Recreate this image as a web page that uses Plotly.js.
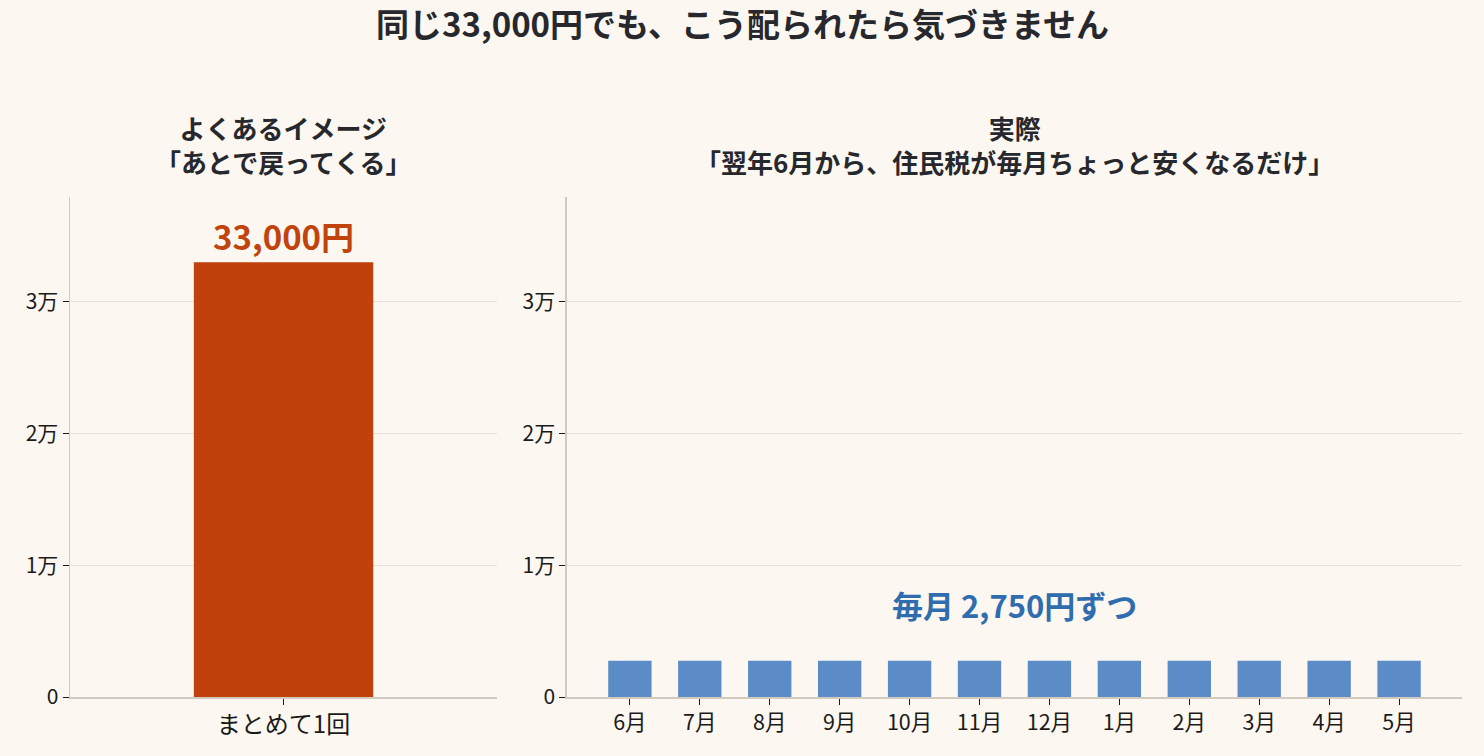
<!DOCTYPE html>
<html>
<head>
<meta charset="utf-8">
<script src="https://cdn.plot.ly/plotly-3.0.1.min.js"></script>
<style>
  html, body { margin: 0; padding: 0; background: #fcf7f0; }
  #chart { width: 1484px; height: 756px; }
</style>
</head>
<body>
<div id="chart"></div>
<script>
(function () {
    'use strict';

    // Data
    const lumpCategories = ['まとめて1回'];
    const lumpValues = [33000];
    const monthCategories = ['6月', '7月', '8月', '9月', '10月', '11月', '12月', '1月', '2月', '3月', '4月', '5月'];
    const monthValues = [2750, 2750, 2750, 2750, 2750, 2750, 2750, 2750, 2750, 2750, 2750, 2750];
    const yTickVals = [0, 10000, 20000, 30000];
    const yTickText = ['0', '1万', '2万', '3万'];

    const COLORS = {
        bg: '#fcf7f0',
        text: '#26282d',
        tick: '#1a1a1a',
        grid: '#e6dfd3',
        axis: '#d2cabe',
        lump: '#c1410c',
        lumpText: '#c1440e',
        month: '#5b8cc8',
        monthText: '#2f6daf'
    };

    const FONT = '"Noto Sans CJK JP", "Noto Sans", sans-serif';
    const yMax = 37950;

    const traces = [
        {
            type: 'bar',
            x: lumpCategories,
            y: lumpValues,
            width: 0.42,
            marker: { color: COLORS.lump },
            xaxis: 'x',
            yaxis: 'y',
            hoverinfo: 'skip'
        },
        {
            type: 'bar',
            x: monthCategories,
            y: monthValues,
            width: 0.62,
            marker: { color: COLORS.month },
            xaxis: 'x2',
            yaxis: 'y2',
            hoverinfo: 'skip'
        }
    ];

    const yAxisBase = {
        range: [0, yMax],
        tickvals: yTickVals,
        ticktext: yTickText,
        ticks: 'outside',
        ticklen: 6,
        tickcolor: COLORS.tick,
        tickfont: { family: FONT, size: 21, color: COLORS.tick },
        gridcolor: COLORS.grid,
        gridwidth: 1.5,
        showline: true,
        linecolor: COLORS.axis,
        linewidth: 1.5,
        zeroline: false,
        fixedrange: true
    };

    const xAxisBase = {
        ticks: 'outside',
        ticklen: 6,
        tickcolor: COLORS.tick,
        tickfont: { family: FONT, size: 24, color: COLORS.tick },
        showline: true,
        linecolor: COLORS.axis,
        linewidth: 1.5,
        showgrid: false,
        fixedrange: true
    };

    const layout = {
        width: 1484,
        height: 756,
        paper_bgcolor: COLORS.bg,
        plot_bgcolor: COLORS.bg,
        font: { family: FONT, color: COLORS.text },
        showlegend: false,
        margin: { t: 197, r: 22, b: 59, l: 70 },
        xaxis: { ...xAxisBase, domain: [0, 0.3068], range: [-0.5, 0.5] },
        yaxis: { ...yAxisBase },
        xaxis2: { ...xAxisBase, domain: [0.357, 1], range: [-0.9, 11.9], tickfont: { family: FONT, size: 21.5, color: COLORS.tick } },
        yaxis2: { ...yAxisBase, anchor: 'x2' },
        annotations: [
            // main title, placed as a paper annotation so it stays inside the page
            {
                xref: 'paper', yref: 'paper',
                x: 0.4828, y: 1.348,
                xanchor: 'center', yanchor: 'middle',
                text: '<b>同じ33,000円でも、こう配られたら気づきません</b>',
                showarrow: false,
                font: { family: FONT, size: 33, color: COLORS.text }
            },
            {
                xref: 'paper', yref: 'paper',
                x: 0.1534, y: 1.031,
                xanchor: 'center', yanchor: 'bottom',
                text: '<b>よくあるイメージ<br>「あとで戻ってくる」</b>',
                showarrow: false,
                font: { family: FONT, size: 26, color: COLORS.text }
            },
            {
                xref: 'paper', yref: 'paper',
                x: 0.6785, y: 1.031,
                xanchor: 'center', yanchor: 'bottom',
                text: '<b>実際<br>「翌年6月から、住民税が毎月ちょっと安くなるだけ」</b>',
                showarrow: false,
                font: { family: FONT, size: 26, color: COLORS.text }
            },
            {
                xref: 'x', yref: 'y',
                x: lumpCategories[0], y: lumpValues[0],
                xanchor: 'center', yanchor: 'bottom',
                yshift: 0,
                text: '<b>33,000円</b>',
                showarrow: false,
                font: { family: FONT, size: 33, color: COLORS.lumpText }
            },
            {
                xref: 'x2', yref: 'y2',
                x: 5.5, y: 7050,
                xanchor: 'center', yanchor: 'middle',
                text: '<b>毎月 2,750円ずつ</b>',
                showarrow: false,
                font: { family: FONT, size: 31, color: COLORS.monthText }
            }
        ]
    };

    Plotly.newPlot('chart', traces, layout, { displayModeBar: false, staticPlot: true });
})();
</script>
</body>
</html>
